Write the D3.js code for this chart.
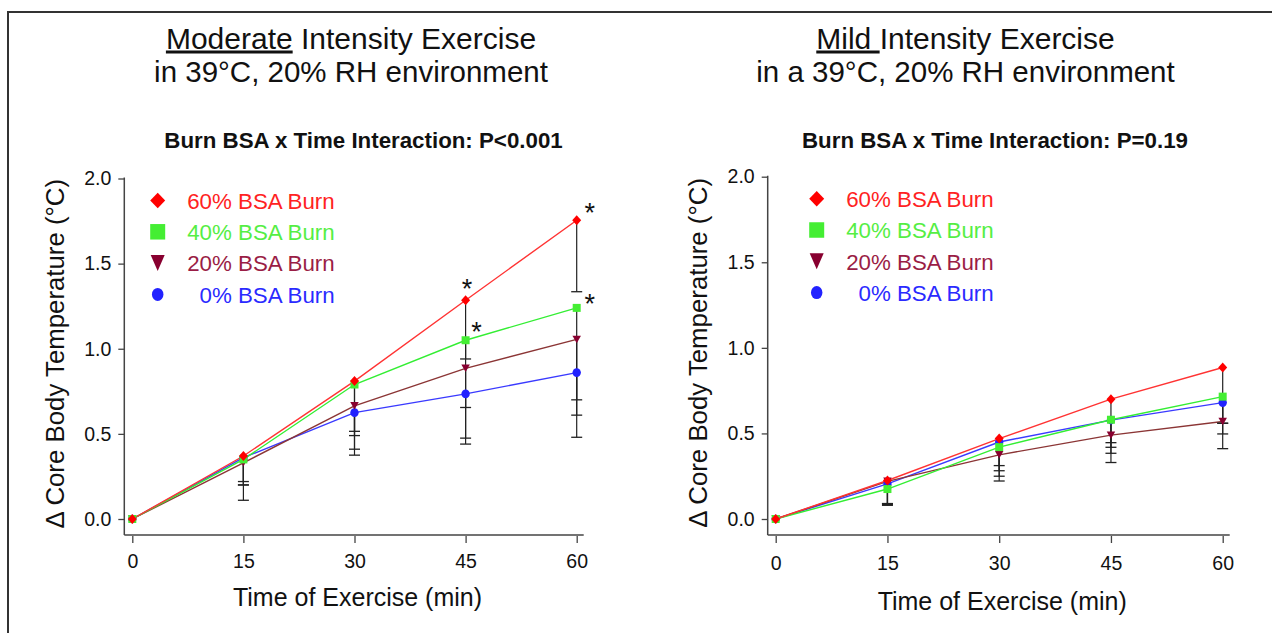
<!DOCTYPE html>
<html>
<head>
    <meta charset="utf-8">
    <title>Core Body Temperature by Burn BSA</title>
    <script src="https://cdnjs.cloudflare.com/ajax/libs/d3/7.8.5/d3.min.js"></script>
    <style>
        body { margin: 0; background: #fff; }
        text { font-family: "Liberation Sans", Arial, sans-serif; }
    </style>
</head>
<body>
    <div id="chart"></div>
    <script>
        // ---- data ----
        const times = [0, 15, 30, 45, 60];
        const seriesNames = ["60% BSA Burn", "40% BSA Burn", "20% BSA Burn", "0% BSA Burn"];
        const yTicks = [0, 0.5, 1.0, 1.5, 2.0];

        // moderate intensity, mean change (°C)
        const moderate60 = [0, 0.37, 0.81, 1.285, 1.755];
        const moderate40 = [0, 0.35, 0.79, 1.05, 1.24];
        const moderate20 = [0, 0.33, 0.665, 0.885, 1.055];
        const moderate0 = [0, 0.36, 0.625, 0.735, 0.86];
        // moderate, lower error bar length
        const moderateErr60 = [0, 0.17, 0.32, 0.81, 0.42];
        const moderateErr40 = [0, 0.24, 0.415, 0.11, 0.54];
        const moderateErr20 = [0, 0.11, 0.15, 0.445, 0.445];
        const moderateErr0 = [0, 0.16, 0.215, 0.08, 0.38];

        // mild intensity
        const mild60 = [0, 0.225, 0.47, 0.70, 0.885];
        const mild40 = [0, 0.175, 0.42, 0.58, 0.715];
        const mild20 = [0, 0.22, 0.375, 0.49, 0.57];
        const mild0 = [0, 0.205, 0.45, 0.578, 0.68];
        const mildErr60 = [0, 0.135, 0.248, 0.37, 0.474];
        const mildErr40 = [0, 0.09, 0.17, 0.196, 0.218];
        const mildErr20 = [0, 0.14, 0.063, 0.044, 0.011];
        const mildErr0 = [0, 0.115, 0.168, 0.159, 0.12];

        // significance stars (moderate panel): series index, time
        const moderateStars = [[0, 45], [1, 45], [0, 60], [1, 60]];

        // ---- styling ----
        const markerColors = ["#ff0000", "#44ee33", "#880030", "#2222ff"];
        const lineColors = ["#ff3333", "#33ee33", "#8b3535", "#3a3aff"];
        const textColors = ["#ff2222", "#55ee44", "#9a1d45", "#2a2aff"];
        const shapes = ["diamond", "square", "triangle", "circle"];

        const width = 1272, height = 633;
        const svg = d3.select("#chart")
            .append("svg")
            .attr("width", width)
            .attr("height", height);

        // outer frame (top and left edges only are visible)
        svg.append("path")
            .attr("d", "M8,633V12H1272")
            .attr("fill", "none")
            .attr("stroke", "#333")
            .attr("stroke-width", 2);

        function markerPath(shape, w, h) {
            const a = w / 2, b = h / 2;
            if (shape === "diamond") return `M0,${-b}L${a},0L0,${b}L${-a},0Z`;
            if (shape === "square") return `M${-a},${-b}H${a}V${b}H${-a}Z`;
            if (shape === "triangle") return `M${-a},${-b}H${a}L0,${b}Z`;
            return `M${-a},0A${a},${b} 0 1,0 ${a},0A${a},${b} 0 1,0 ${-a},0Z`;
        }
        const plotSize = { diamond: [9, 10], square: [8, 8], triangle: [8.5, 7.5], circle: [8.4, 8.6] };
        const legendSize = { diamond: [15, 15.5], square: [15, 15.5], triangle: [14, 16], circle: [11.5, 13] };

        function drawPanel(p) {
            const g = svg.append("g");
            const x = d3.scaleLinear().domain([0, 60]).range(p.xRange);
            const y = d3.scaleLinear().domain([0, 2]).range(p.yRange);
            const axisX = x(0) - 8;
            const axisY = y(0) + 16;

            // titles
            const t1 = g.append("text")
                .attr("x", p.titleX).attr("y", 48.5)
                .attr("text-anchor", "middle")
                .attr("font-size", 30).attr("fill", "#111");
            t1.append("tspan").attr("text-decoration", "underline").text(p.title[0]);
            t1.append("tspan").text(p.title[1]);
            g.append("text")
                .attr("x", p.titleX).attr("y", 82)
                .attr("text-anchor", "middle")
                .attr("font-size", 29.5).attr("fill", "#111")
                .text(p.title[2]);
            g.append("text")
                .attr("x", p.subX).attr("y", 148)
                .attr("text-anchor", "middle")
                .attr("font-size", 22.3).attr("font-weight", "bold").attr("fill", "#111")
                .text(p.subtitle);

            // axes
            g.append("line")
                .attr("x1", axisX).attr("x2", axisX)
                .attr("y1", y(2) - 1).attr("y2", axisY)
                .attr("stroke", "#444").attr("stroke-width", 1.5);
            g.append("line")
                .attr("x1", axisX).attr("x2", x(60) + 7)
                .attr("y1", axisY).attr("y2", axisY)
                .attr("stroke", "#444").attr("stroke-width", 1.5);

            const yAxis = g.append("g")
                .attr("transform", `translate(${axisX},0)`)
                .call(d3.axisLeft(y).tickValues(yTicks).tickFormat(d3.format(".1f")).tickSize(6).tickPadding(7));
            const xAxis = g.append("g")
                .attr("transform", `translate(0,${axisY + 1})`)
                .call(d3.axisBottom(x).tickValues(times).tickSize(7).tickPadding(p.xPad));
            [yAxis, xAxis].forEach(a => {
                a.select(".domain").remove();
                a.selectAll(".tick line").attr("stroke", "#444").attr("stroke-width", 1.3);
                a.selectAll(".tick text")
                    .attr("font-size", 19.5).attr("fill", "#111")
                    .attr("font-family", "'Liberation Sans', Arial, sans-serif");
            });

            g.append("text")
                .attr("x", (x(0) + x(60)) / 2 + 3).attr("y", p.xLabelY)
                .attr("text-anchor", "middle")
                .attr("font-size", 25).attr("fill", "#111")
                .text("Time of Exercise (min)");
            g.append("text")
                .attr("transform", `translate(${p.yLabelX},${y(1) + 5}) rotate(-90)`)
                .attr("text-anchor", "middle")
                .attr("font-size", 25.8).attr("fill", "#111")
                .text("\u0394 Core Body Temperature (\u00B0C)");

            const order = [3, 2, 1, 0];
            const line = d3.line().x((d, i) => x(times[i])).y(d => y(d));

            order.forEach(s => {
                g.append("path")
                    .attr("d", line(p.means[s]))
                    .attr("fill", "none")
                    .attr("stroke", lineColors[s])
                    .attr("stroke-width", 1.4);
            });

            // error bars (lower direction)
            order.forEach(s => {
                p.means[s].forEach((m, i) => {
                    const e = p.errs[s][i];
                    if (e <= 0) return;
                    const cx = x(times[i]);
                    g.append("line")
                        .attr("x1", cx).attr("x2", cx)
                        .attr("y1", y(m)).attr("y2", y(m - e))
                        .attr("stroke", "#222").attr("stroke-width", 1.2);
                    g.append("line")
                        .attr("x1", cx - 5.5).attr("x2", cx + 5.5)
                        .attr("y1", y(m - e)).attr("y2", y(m - e))
                        .attr("stroke", "#222").attr("stroke-width", 1.3);
                });
            });

            order.forEach(s => {
                const sz = plotSize[shapes[s]];
                g.selectAll(null)
                    .data(p.means[s])
                    .join("path")
                    .attr("transform", (d, i) => `translate(${x(times[i])},${y(d)})`)
                    .attr("d", markerPath(shapes[s], sz[0], sz[1]))
                    .attr("fill", markerColors[s]);
            });

            // stars
            const starOffset = [[1.5, -18], [11, -15], [13, -14], [13, -10]];
            p.stars.forEach(([s, t], k) => {
                const i = times.indexOf(t);
                g.append("text")
                    .attr("x", x(t) + starOffset[k][0])
                    .attr("y", y(p.means[s][i]) + starOffset[k][1] + 15.5)
                    .attr("text-anchor", "middle")
                    .attr("font-size", 27).attr("fill", "#111")
                    .text("*");
            });

            // legend
            seriesNames.forEach((name, s) => {
                const ly = y(2) + 22 + s * 31.3;
                const sz = legendSize[shapes[s]];
                g.append("path")
                    .attr("transform", `translate(${p.legendX},${ly})`)
                    .attr("d", markerPath(shapes[s], sz[0], sz[1]))
                    .attr("fill", markerColors[s]);
                g.append("text")
                    .attr("x", p.legendX + 177).attr("y", ly + 8.3)
                    .attr("text-anchor", "end")
                    .attr("font-size", 22.3).attr("fill", textColors[s])
                    .text(name);
            });
        }

        drawPanel({
            title: ["Moderate", " Intensity Exercise", "in 39\u00B0C, 20% RH environment"],
            subtitle: "Burn BSA x Time Interaction: P<0.001",
            titleX: 351, subX: 363.5,
            xRange: [132.3, 576.7], yRange: [519, 178.5],
            xPad: 11, xLabelY: 606, yLabelX: 64,
            legendX: 157.7,
            means: [moderate60, moderate40, moderate20, moderate0],
            errs: [moderateErr60, moderateErr40, moderateErr20, moderateErr0],
            stars: moderateStars
        });
        drawPanel({
            title: ["Mild ", "Intensity Exercise", "in a 39\u00B0C, 20% RH environment"],
            subtitle: "Burn BSA x Time Interaction: P=0.19",
            titleX: 965.5, subX: 995,
            xRange: [775.7, 1222.7], yRange: [519, 176.7],
            xPad: 13, xLabelY: 610, yLabelX: 707,
            legendX: 816.7,
            means: [mild60, mild40, mild20, mild0],
            errs: [mildErr60, mildErr40, mildErr20, mildErr0],
            stars: []
        });
    </script>
</body>
</html>
